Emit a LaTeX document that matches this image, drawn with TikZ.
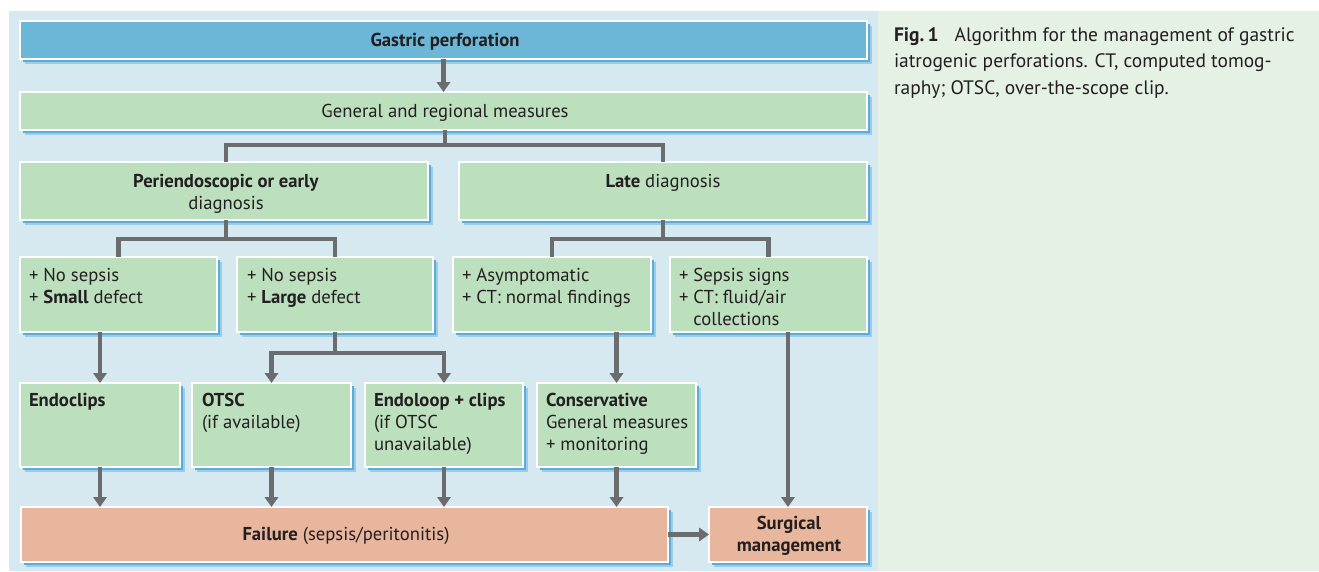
\documentclass[tikz,border=0pt]{standalone}
\usepackage{fontspec}
\setmainfont{PT Sans}
\usetikzlibrary{arrows.meta,shadows}
\definecolor{panelbg}{HTML}{D6E8F0}
\definecolor{capbg}{HTML}{E5F1E4}
\definecolor{titlebl}{HTML}{6CB7D8}
\definecolor{boxgr}{HTML}{BCDFBE}
\definecolor{boxor}{HTML}{E8B59D}
\definecolor{linegr}{HTML}{6B6C6E}
\definecolor{txt}{HTML}{231F20}
\definecolor{shd}{HTML}{5BADD9}
\definecolor{shdl}{HTML}{9CCCE6}
\tikzset{
  bx/.style={draw=white, line width=0.8pt, inner sep=0pt, outer sep=0pt, anchor=north west,
    general shadow={fill=shdl, shadow xshift=4pt, shadow yshift=-4pt},
    general shadow={fill=shd, shadow xshift=2.4pt, shadow yshift=-2.4pt}},
  bluebox/.style={bx, fill=titlebl},
  greenbox/.style={bx, fill=boxgr},
  orangebox/.style={bx, fill=boxor},
  ln/.style={draw=linegr, line width=3.6pt},
  ar/.style={ln, -{Triangle[width=10pt,length=7.5pt]}},
  tl/.style={inner sep=0pt, outer sep=0pt, anchor=base west, text=txt},
  tc/.style={inner sep=0pt, outer sep=0pt, anchor=base, text=txt},
}
\newcommand\mkbox[6]{\node[#6, minimum width={(#4-#2)*0.75pt}, minimum height={(#5-#3)*0.75pt}] (#1) at (#2,#3) {};}
\newcommand\lines[1]{\begin{tabular}[t]{@{}l@{}}#1\end{tabular}}
\newcommand\clines[1]{\begin{tabular}[t]{@{}c@{}}#1\end{tabular}}
\begin{document}
\begin{tikzpicture}[x=0.75pt, y=-0.75pt, font=\fontsize{14pt}{16.5pt}\selectfont]
\useasboundingbox (0,0) rectangle (1319,571);
\fill[white] (0,0) rectangle (1319,571);
\fill[panelbg] (9,11) rectangle (878,571);
\fill[capbg] (878,11) rectangle (1319,571);

% boxes
\mkbox{gp}{20}{21}{867}{59}{bluebox}
\mkbox{gr}{20}{92}{867}{130}{greenbox}
\mkbox{pe}{20}{162}{428}{220}{greenbox}
\mkbox{ld}{459}{162}{867}{220}{greenbox}
\mkbox{ns1}{20}{257}{217}{332}{greenbox}
\mkbox{ns2}{237}{257}{433}{332}{greenbox}
\mkbox{as}{453}{257}{651}{332}{greenbox}
\mkbox{ss}{670}{257}{867}{332}{greenbox}
\mkbox{ec}{20}{383}{180}{467}{greenbox}
\mkbox{ot}{192}{383}{351}{467}{greenbox}
\mkbox{el}{365}{383}{523}{467}{greenbox}
\mkbox{co}{537}{383}{696}{467}{greenbox}
\mkbox{fa}{21}{507}{668}{562}{orangebox}
\mkbox{sm}{709}{507}{867}{562}{orangebox}

% texts
\node[tc] (tgp) at (445,46) {\textbf{Gastric perforation}};
\node[tc] (tgr) at (445,117) {General and regional measures};
\node[tc] (tpe) at (226,187) {\clines{\textbf{Periendoscopic or early}\\diagnosis}};
\node[tc] (tld) at (663,187) {\textbf{Late} diagnosis};
\node[tl] (tns1) at (29,281) {\lines{+ No sepsis\\+ \textbf{Small} defect}};
\node[tl] (tns2) at (247,281) {\lines{+ No sepsis\\+ \textbf{Large} defect}};
\node[tl] (tas) at (462,281) {\lines{+ Asymptomatic\\+ CT: normal findings}};
\node[tl] (tss) at (679,281) {\lines{+ Sepsis signs\\+ CT: fluid/air\\\phantom{+ }collections}};
\node[tl] (tec) at (29,406) {\textbf{Endoclips}};
\node[tl] (tot) at (202,406) {\lines{\textbf{OTSC}\\(if available)}};
\node[tl] (tel) at (374,406) {\lines{\textbf{Endoloop + clips}\\(if OTSC\\unavailable)}};
\node[tl] (tco) at (546,406) {\lines{\textbf{Conservative}\\General measures\\+ monitoring}};
\node[tc] (tfa) at (346,540) {\textbf{Failure} (sepsis/peritonitis)};
\node[tc] (tsm) at (789,529) {\clines{\textbf{Surgical}\\\textbf{management}}};

% caption
\node[tl, font=\fontsize{14.6pt}{20pt}\selectfont] (cap) at (894,41) {\lines{\textbf{Fig.\,1}\hspace{12pt}Algorithm for the management of gastric\\iatrogenic perforations. CT, computed tomog-\\raphy; OTSC, over-the-scope clip.}};

% connectors
\coordinate (j1) at (445,145);
\coordinate (j2) at (226,239);
\coordinate (j3) at (663,239);
\coordinate (j4) at (335,353);
\draw[ar] (gp.south) -- (gr.north);
\draw[ln] (gr.south -| j1) -- (j1);
\draw[ln, line join=miter] (pe.north -| j2) |- (j1) -| (ld.north);
\draw[ln] (pe.south -| j2) -- (j2);
\draw[ln, line join=miter] (ns1.north) |- (j2) -| (ns2.north);
\draw[ln] (ld.south -| j3) -- (j3);
\draw[ln, line join=miter] (as.north) |- (j3) -| (ss.north);
\draw[ar] (ns1.south -| ec.north) -- (ec.north);
\draw[ln] (ns2.south -| j4) -- (j4);
\draw[ar, line join=miter] (j4) -| (ot.north);
\draw[ar, line join=miter] (j4) -| (el.north);
\draw[ar] (as.south -| co.north) -- (co.north);
\draw[ar] (ss.south -| sm.north) -- (sm.north);
\draw[ar] (ec.south) -- (ec.south |- fa.north);
\draw[ar] (ot.south) -- (ot.south |- fa.north);
\draw[ar] (el.south) -- (el.south |- fa.north);
\draw[ar] (co.south) -- (co.south |- fa.north);
\draw[ar] (fa.east) -- (sm.west);
\end{tikzpicture}
\end{document}
